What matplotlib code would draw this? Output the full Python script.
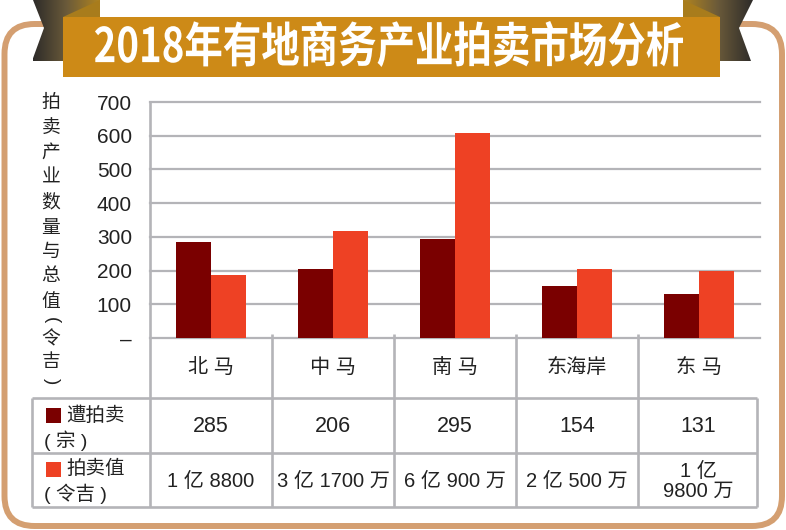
import numpy as np
import matplotlib.pyplot as plt
from matplotlib.patches import FancyBboxPatch, Polygon, Rectangle, PathPatch
from matplotlib.textpath import TextPath
from matplotlib.font_manager import FontProperties
from matplotlib.transforms import Affine2D

plt.rcParams['font.family'] = ['Liberation Sans', 'Noto Sans CJK SC', 'DejaVu Sans']

# 数据
title = '2018年有地商务产业拍卖市场分析'
regions = ['北 马', '中 马', '南 马', '东海岸', '东 马']
auction_count = [285, 206, 295, 154, 131]          # 宗
auction_value = [188, 317, 609, 205, 198]          # 百万令吉
count_labels = ['285', '206', '295', '154', '131']
value_labels = ['1 亿 8800', '3 亿 1700 万', '6 亿 900 万', '2 亿 500 万', '1 亿\n9800 万']
yticks = [0, 100, 200, 300, 400, 500, 600, 700]
ytick_labels = ['–', '100', '200', '300', '400', '500', '600', '700']
ylabel_chars = ['拍', '卖', '产', '业', '数', '量', '与', '总', '值', '(', '令', '吉', ')']

dark = '#7a0000'
orange = '#ee4124'
grid_c = '#b4b4b8'
frame_c = '#d49f71'
gold = '#cd8a17'

W, H = 786, 530
fig = plt.figure(figsize=(W / 100, H / 100), dpi=100)

# 背景层: 像素坐标
bg = fig.add_axes([0, 0, 1, 1])
bg.axis('off')

# 圆角外框
bg.add_patch(FancyBboxPatch((4.5, 24), 777.5, 502,
                            boxstyle='round,pad=0,rounding_size=30',
                            fill=False, ec=frame_c, lw=4.3))

# 丝带两端(渐变)
grad = np.linspace(0, 1, 256).reshape(1, -1)
cmap = plt.matplotlib.colors.LinearSegmentedColormap.from_list('rib', ['#2d2b29', '#6a5a3a', '#b08420'])
left_tail = Polygon([(33, 0), (100, 0), (100, 17), (63, 17), (63, 61), (32, 61), (44, 28)],
                    closed=True, fc='none', ec='none')
bg.add_patch(left_tail)
im = bg.imshow(grad, extent=(33, 100, 61, 0), cmap=cmap, aspect='auto', zorder=2)
im.set_clip_path(left_tail)
right_tail = Polygon([(753, 0), (683, 0), (683, 17), (720, 17), (720, 61), (751, 61), (739, 28)],
                     closed=True, fc='none', ec='none')
bg.add_patch(right_tail)
im2 = bg.imshow(grad[:, ::-1], extent=(683, 753, 61, 0), cmap=cmap, aspect='auto', zorder=2)
im2.set_clip_path(right_tail)
bg.add_patch(Polygon([(63, 17), (100, 0), (100, 17)], fc='#a87c1c', ec='none', zorder=3))
bg.add_patch(Polygon([(720, 17), (683, 0), (683, 17)], fc='#a87c1c', ec='none', zorder=3))

# 标题横幅
bg.add_patch(Rectangle((63, 17), 657, 60, fc=gold, ec='none', zorder=4))
tp = TextPath((0, 0), title, size=50, prop=FontProperties(family='Noto Sans CJK SC', weight='bold'))
ext = tp.get_extents()
sx = (683 - 95) / ext.width
sy = (67 - 21) / ext.height
tr = Affine2D().translate(-ext.x0, -ext.y0).scale(sx, -sy).translate(95, 67)
bg.add_patch(PathPatch(tr.transform_path(tp), fc='white', ec='none', zorder=5))

# 纵轴标题(竖排)
ylab_y = [103, 128, 153, 178, 203, 228, 252, 277, 302, 320, 340, 363, 381]
for ch, yy in zip(ylabel_chars, ylab_y):
    rot = -90 if ch in '()' else 0
    bg.text(51, yy, ch, fontsize=13.5, ha='center', va='center', color='#222222',
            rotation=rot, zorder=6)

# 表格线
tl = dict(color=grid_c, lw=1.9, solid_capstyle='butt', zorder=3)
bounds = [150, 272, 394, 516, 638, 757]
for yy in [398, 453, 507]:
    bg.plot([32, 757], [yy, yy], **tl)
for xx in [32] + bounds:
    bg.plot([xx, xx], [398, 507], **tl)
for xx in bounds[1:-1]:
    bg.plot([xx, xx], [334, 398], **tl)
bg.plot([150, 150], [101, 398], **tl)

# 图例色块与行标题
bg.add_patch(Rectangle((46, 408), 15, 15, fc=dark, ec='none', zorder=6))
bg.add_patch(Rectangle((46, 462), 15, 15, fc=orange, ec='none', zorder=6))
bg.text(66, 416, '遭拍卖', fontsize=14, ha='left', va='center', color='#222222')
bg.text(44, 441, '( 宗 )', fontsize=14, ha='left', va='center', color='#222222')
bg.text(66, 469, '拍卖值', fontsize=14, ha='left', va='center', color='#222222')
bg.text(44, 494, '( 令吉 )', fontsize=14, ha='left', va='center', color='#222222')

# 类别与表格数值
for i in range(len(regions)):
    cx = (bounds[i] + bounds[i + 1]) / 2 if i < 4 else (638 + 759) / 2
    bg.text(cx, 367, regions[i], fontsize=14.5, ha='center', va='center', color='#222222')
    bg.text(cx, 427, count_labels[i], fontsize=15.5, ha='center', va='center', color='#222222')
    bg.text(cx, 481, value_labels[i], fontsize=14.5, ha='center', va='center', color='#222222',
            linespacing=1.05)

bg.set_xlim(0, W)
bg.set_ylim(H, 0)

# 柱状图
ax = fig.add_axes([150 / W, (H - 338) / H, 610 / W, 236 / H])
ax.patch.set_visible(False)
x = np.arange(len(regions)) + 0.5
bw = 0.287
ax.bar(x - bw / 2, auction_count, bw, color=dark, zorder=3)
ax.bar(x + bw / 2, auction_value, bw, color=orange, zorder=3)
ax.set_xlim(0, 5)
ax.set_ylim(0, 700)
ax.set_yticks(yticks)
ax.set_yticklabels(ytick_labels, fontsize=15, color='#222222')
ax.set_xticks([])
ax.tick_params(axis='y', length=0, pad=13)
for yv in yticks:
    ax.axhline(yv, color=grid_c, lw=1.6, zorder=1, clip_on=False)
for s in ax.spines.values():
    s.set_visible(False)

fig.savefig('out.png', dpi=100)
